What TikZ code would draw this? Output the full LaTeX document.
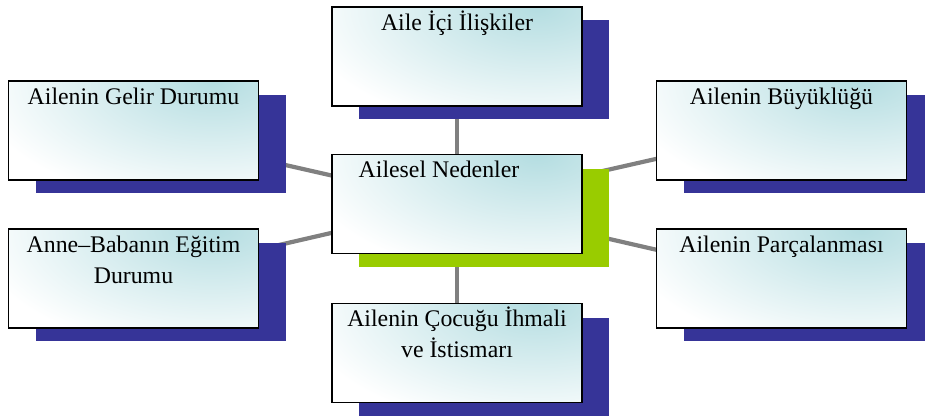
\documentclass[tikz,border=0pt]{standalone}
\usepackage{fontspec}
\setmainfont{Liberation Serif}
\usetikzlibrary{backgrounds}
\definecolor{sblue}{RGB}{54,52,152}
\definecolor{sgreen}{RGB}{153,204,0}
\definecolor{lgray}{RGB}{128,128,128}
\definecolor{tealc}{RGB}{180,221,225}
\begin{document}
\begin{tikzpicture}[x=1pt,y=-1pt,
  boxst/.style={draw=black, fill=white, line width=1.4pt, minimum width=250pt, minimum height=99pt, inner sep=0pt,
    path picture={\shade[inner color=tealc, outer color=white] ([xshift=-45pt]path picture bounding box.north east) ellipse [x radius=240pt, y radius=125pt];}},
  shadowst/.style={fill=sblue, minimum width=250pt, minimum height=98pt, inner sep=0pt},
  shadowgr/.style={fill=sgreen, minimum width=250pt, minimum height=98pt, inner sep=0pt},
  txt/.style={anchor=north, inner sep=0pt, align=center, font=\fontsize{23.8}{31}\selectfont},
  conn/.style={draw=lgray, line width=4.2pt}]
\useasboundingbox (0,0) rectangle (925,417);
% shadows
\node[shadowst] (stop) at (484,69.5) {};
\node[shadowgr] (sctr) at (484,218) {};
\node[shadowst] (slt) at (160.5,144) {};
\node[shadowst] (slb) at (160.5,292) {};
\node[shadowst] (srt) at (808.5,144) {};
\node[shadowst] (srb) at (808.5,292) {};
\node[shadowst] (sbot) at (484,366.5) {};
% boxes
\node[boxst] (top) at (457,56.5) {};
\node[boxst] (ctr) at (457,204) {};
\node[boxst] (lt) at (133.5,130.5) {};
\node[boxst] (lb) at (133.5,278.5) {};
\node[boxst] (rt) at (781.5,130.5) {};
\node[boxst] (rb) at (781.5,278.5) {};
\node[boxst] (bot) at (457,353) {};
% connectors
\begin{scope}[on background layer]
\draw[conn] (ctr.center) -- (top.center);
\draw[conn] (ctr.center) -- (lt.center);
\draw[conn] (ctr.center) -- (lb.center);
\draw[conn] (ctr.center) -- (rt.center);
\draw[conn] (ctr.center) -- (rb.center);
\draw[conn] (ctr.center) -- (bot.center);
\end{scope}
% texts
\node[txt] (ttop) at (457,6) {\rule{0pt}{24pt}Aile İçi İlişkiler};
\node[txt] (tctr) at (439,153) {\rule{0pt}{24pt}Ailesel Nedenler};
\node[txt] (tlt) at (133.5,80) {\rule{0pt}{24pt}Ailenin Gelir Durumu};
\node[txt] (tlb) at (133.5,228) {\rule{0pt}{24pt}Anne–Babanın Eğitim\\Durumu};
\node[txt] (trt) at (781.5,80) {\rule{0pt}{24pt}Ailenin Büyüklüğü};
\node[txt] (trb) at (781.5,228) {\rule{0pt}{24pt}Ailenin Parçalanması};
\node[txt] (tbot) at (457,302) {\rule{0pt}{24pt}Ailenin Çocuğu İhmali\\ve İstismarı};
\end{tikzpicture}
\end{document}
